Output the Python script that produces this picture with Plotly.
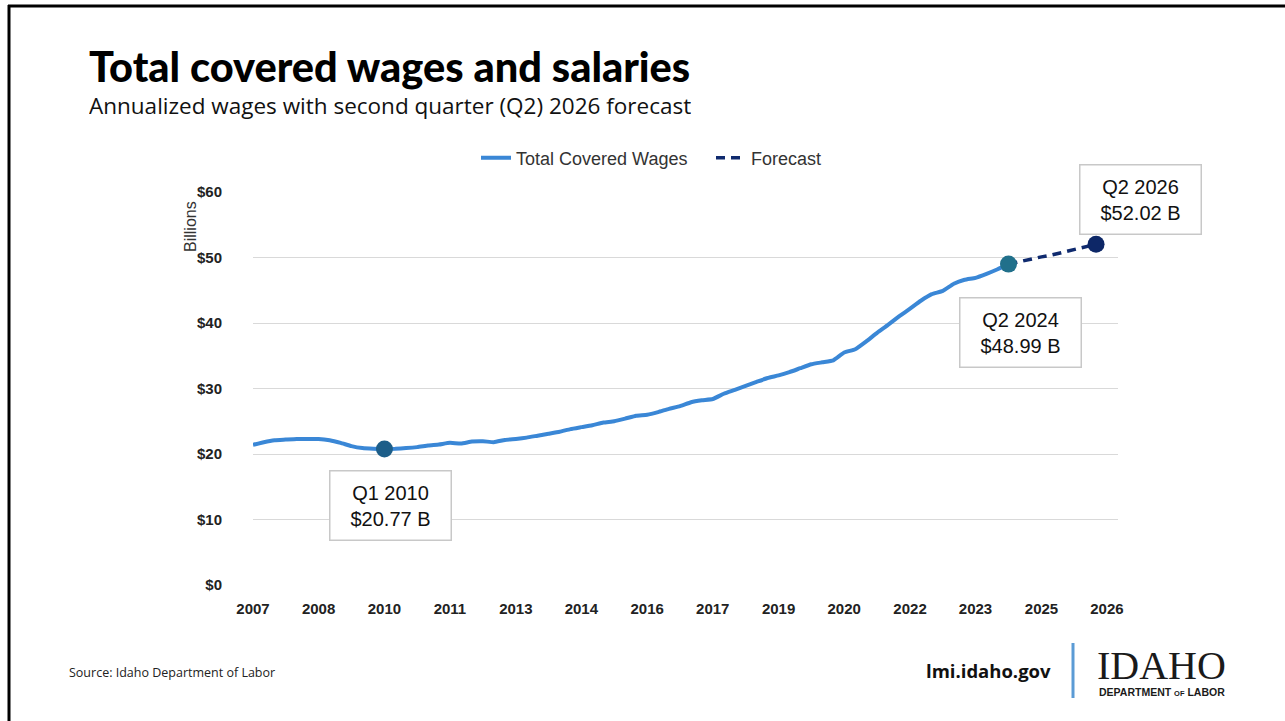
import pandas as pd
import plotly.graph_objects as go

# quarterly series, 2007 Q1 .. 2024 Q2 (billions, annualized)
quarters = [f"{y} Q{q}" for y in range(2007, 2025) for q in range(1, 5)][:70]
wages = [
    21.4, 21.8, 22.1, 22.2, 22.3, 22.3, 22.3, 22.1, 21.7, 21.2,
    20.9, 20.8, 20.77, 20.8, 20.9, 21.05, 21.3, 21.45, 21.7, 21.6,
    21.9, 21.95, 21.8, 22.15, 22.3, 22.5, 22.8, 23.1, 23.4, 23.8,
    24.1, 24.4, 24.8, 25.0, 25.4, 25.85, 26.0, 26.4, 26.9, 27.3,
    27.9, 28.2, 28.4, 29.2, 29.8, 30.4, 31.0, 31.6, 32.0, 32.5,
    33.1, 33.7, 34.0, 34.3, 35.5, 36.0, 37.2, 38.5, 39.7, 41.0,
    42.2, 43.4, 44.4, 44.9, 46.0, 46.6, 46.9, 47.5, 48.2, 48.99,
]

# forecast, 2024 Q2 .. 2026 Q2
fc_quarters = ["2024 Q2", "2024 Q3", "2024 Q4", "2025 Q1", "2025 Q2",
               "2025 Q3", "2025 Q4", "2026 Q1", "2026 Q2"]
fc_values = [48.99, 49.4, 49.8, 50.1, 50.4, 50.8, 51.2, 51.6, 52.02]

# highlighted points + their callouts
hl_quarters = ["2010 Q1", "2024 Q2", "2026 Q2"]
hl_values = [20.77, 48.99, 52.02]
hl_colors = ["#1d5e89", "#21708b", "#0d2767"]

y_ticks = [0, 10, 20, 30, 40, 50, 60]
y_labels = ["$" + str(v) for v in y_ticks]


def q2date(q):
    return pd.Period(q.replace(" ", ""), freq="Q").start_time


# pixel -> paper helpers (plot area 253..1118 x 192..585)
def pxx(p):
    return (p - 253) / 865


def pxy(p):
    return (585 - p) / 393


fig = go.Figure()

fig.add_trace(go.Scatter(
    x=[q2date(q) for q in quarters], y=wages,
    mode="lines", name="Total Covered Wages",
    line=dict(color="#3a87d6", width=4, shape="spline", smoothing=0.4),
    cliponaxis=False,
))
fig.add_trace(go.Scatter(
    x=[q2date(q) for q in fc_quarters], y=fc_values,
    mode="lines", name="Forecast",
    line=dict(color="#0f2a6e", width=3.5, dash="9px,6px"),
    cliponaxis=False,
))
fig.add_trace(go.Scatter(
    x=[q2date(q) for q in hl_quarters], y=hl_values,
    mode="markers", showlegend=False,
    marker=dict(color=hl_colors, size=17),
    cliponaxis=False,
))

ann_font = dict(family="Liberation Sans, Arial, sans-serif", size=20, color="#111")
callouts = [
    ("Q1 2010<br>$20.77 B", 390, 505),
    ("Q2 2024<br>$48.99 B", 1020, 332),
    ("Q2 2026<br>$52.02 B", 1140, 199),
]
annotations = []
for txt, cx, cy in callouts:
    annotations.append(dict(
        text=txt, xref="paper", yref="paper", x=pxx(cx), y=pxy(cy),
        xanchor="center", yanchor="middle", showarrow=False,
        font=ann_font, bgcolor="white", bordercolor="#c8c8c8", borderwidth=1.5,
        width=118, height=66, align="center",
    ))

annotations += [
    dict(text="Total covered wages and salaries", x=pxx(87), y=pxy(66), height=52,
         font=dict(family="Lato, Roboto, sans-serif", size=41.5, color="#000", weight=900)),
    dict(text="Annualized wages with second quarter (Q2) 2026 forecast", x=pxx(87), y=pxy(105), height=28,
         font=dict(family="Open Sans, Noto Sans, sans-serif", size=22.5, color="#111")),
    dict(text="Billions", x=pxx(190), y=pxy(227), textangle=-90, xanchor="center",
         font=dict(family="Liberation Sans, Arial, sans-serif", size=16, color="#333")),
    dict(text="Source: Idaho Department of Labor", x=pxx(67), y=pxy(672),
         font=dict(family="Open Sans, sans-serif", size=12.5, color="#222")),
    dict(text="<b>lmi.idaho.gov</b>", x=pxx(1053), y=pxy(670), xanchor="right",
         font=dict(family="Open Sans, sans-serif", size=18.5, color="#111")),
    dict(text="IDAHO", x=pxx(1095), y=pxy(665), height=32,
         font=dict(family="Liberation Serif, DejaVu Serif, serif", size=40, color="#1a1a1a")),
    dict(text="<b>DEPARTMENT <span style='font-size:7.5px'>OF</span> LABOR</b>", x=pxx(1097), y=pxy(692),
         font=dict(family="Liberation Sans, Arial, sans-serif", size=10.5, color="#1a1a1a")),
]
for a in annotations:
    a.setdefault("xref", "paper")
    a.setdefault("yref", "paper")
    a.setdefault("xanchor", "left")
    a.setdefault("yanchor", "middle")
    a.setdefault("showarrow", False)

shapes = [
    # slide frame (left + top)
    dict(type="line", xref="paper", yref="paper", x0=pxx(9), x1=pxx(9), y0=pxy(5), y1=pxy(721),
         line=dict(color="#000", width=3)),
    dict(type="line", xref="paper", yref="paper", x0=pxx(8), x1=pxx(1285), y0=pxy(6), y1=pxy(6),
         line=dict(color="#000", width=3)),
    # separator before the logo
    dict(type="line", xref="paper", yref="paper", x0=pxx(1073), x1=pxx(1073), y0=pxy(643), y1=pxy(698),
         line=dict(color="#5b9bd5", width=3)),
]

tick_font = dict(family="Liberation Sans, Arial, sans-serif", size=15, color="#222", weight="bold")

fig.update_layout(
    width=1285, height=721,
    margin=dict(l=253, r=167, t=192, b=136),
    paper_bgcolor="white", plot_bgcolor="white",
    showlegend=True,
    legend=dict(
        orientation="h", x=pxx(476), y=pxy(158), xanchor="left", yanchor="middle",
        font=dict(family="Liberation Sans Narrow, Liberation Sans, Arial, sans-serif", size=18, color="#333"),
        itemwidth=30, entrywidth=190, bgcolor="rgba(0,0,0,0)",
    ),
    xaxis=dict(
        type="date", range=["2007-01-01", "2026-10-01"],
        tick0="2007-01-01", dtick="M18", tickformat="%Y",
        showgrid=False, zeroline=False, showline=False, ticks="",
        tickfont=tick_font, ticklabelstandoff=13,
    ),
    yaxis=dict(
        range=[0, 60], tickmode="array", tickvals=y_ticks, ticktext=y_labels,
        showgrid=True, gridcolor="#d9d9d9", gridwidth=1.3,
        zeroline=False, showline=False, ticks="",
        tickfont=tick_font, ticklabelstandoff=30,
    ),
    annotations=annotations,
    shapes=shapes,
)

fig.write_html("out.html", config={"displayModeBar": False},
               post_script="document.body.style.margin='0';")
